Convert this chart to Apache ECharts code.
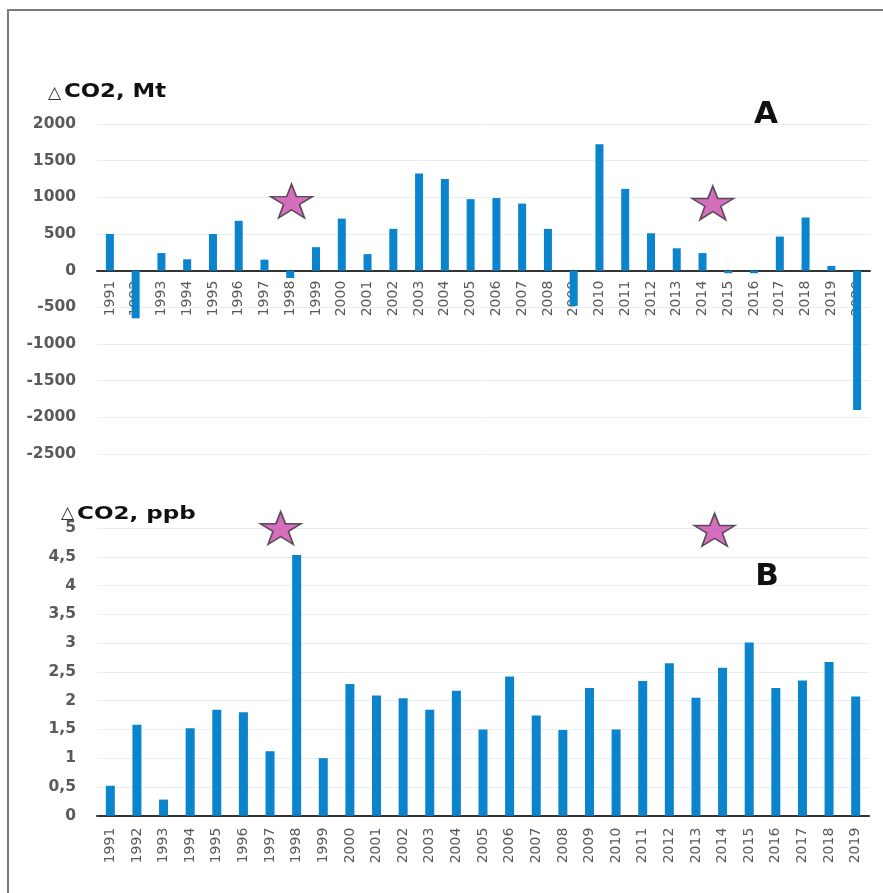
<!DOCTYPE html>
<html>
<head>
<meta charset="utf-8">
<script src="https://cdn.jsdelivr.net/npm/echarts@6/dist/echarts.min.js"></script>
<style>
  html, body { margin: 0; padding: 0; background: #ffffff; }
  #chart { width: 883px; height: 893px; }
</style>
</head>
<body>
<div id="chart"></div>
<script>
// ---- Data ----
const yearsA = ['1991','1992','1993','1994','1995','1996','1997','1998','1999','2000',
                '2001','2002','2003','2004','2005','2006','2007','2008','2009','2010',
                '2011','2012','2013','2014','2015','2016','2017','2018','2019','2020'];
const deltaMt = [500, -650, 240, 155, 500, 680, 150, -100, 320, 710,
                 225, 570, 1325, 1250, 975, 990, 915, 570, -480, 1725,
                 1115, 510, 305, 240, -35, -35, 465, 725, 65, -1900];

const yearsB = ['1991','1992','1993','1994','1995','1996','1997','1998','1999','2000',
                '2001','2002','2003','2004','2005','2006','2007','2008','2009','2010',
                '2011','2012','2013','2014','2015','2016','2017','2018','2019'];
const deltaPpb = [0.52, 1.58, 0.28, 1.52, 1.84, 1.80, 1.12, 4.53, 1.00, 2.29,
                  2.09, 2.04, 1.84, 2.17, 1.50, 2.42, 1.74, 1.49, 2.22, 1.50,
                  2.34, 2.65, 2.05, 2.57, 3.01, 2.22, 2.35, 2.67, 2.07];

// star markers: [category position (index), value]
const starsA = [[7.05, 950], [23.4, 925]];
const starsB = [[6.4, 5.0], [22.7, 4.97]];

// tick labels
const ticksA = ['-2500', '-2000', '-1500', '-1000', '-500', '0', '500', '1000', '1500', '2000'];
const ticksB = ['0', '0,5', '1', '1,5', '2', '2,5', '3', '3,5', '4', '4,5', '5'];

// ---- Chart ----
const chart = echarts.init(document.getElementById('chart'), null, { renderer: 'canvas' });
const starPath = 'path://M50,0 L61.8,35.4 L100,35.4 L69.1,57.3 L80.9,95.1 L50,72.4 L19.1,95.1 L30.9,57.3 L0,35.4 L38.2,35.4 Z';
const barColor = '#0a84cc';
const labelColor = '#5a5a5a';
const gridColor = '#e9eef3';
const fontFam = 'DejaVu Sans';

const yMinA = -2500, yMaxA = 2000;
const gridATop = 124, gridABottomY = 454;
const zeroOffsetA = (gridABottomY - gridATop) * (0 - yMinA) / (yMaxA - yMinA);

const yLabel = {
  color: labelColor, fontFamily: fontFam, fontWeight: 'bold', fontSize: 15.5, margin: 21
};

const option = {
  backgroundColor: '#ffffff',
  animation: false,
  grid: [
    { left: 97, right: 13, top: gridATop, bottom: 893 - gridABottomY },
    { left: 97, right: 14, top: 528, bottom: 893 - 815.7 }
  ],
  xAxis: [
    {
      type: 'category', gridIndex: 0, data: yearsA,
      position: 'bottom', offset: -zeroOffsetA,
      axisLine: { onZero: false, lineStyle: { color: '#333', width: 2 } },
      axisTick: { show: false },
      axisLabel: { rotate: 90, interval: 0, margin: 10, color: labelColor, fontFamily: fontFam, fontSize: 14 }
    },
    {
      type: 'value', gridIndex: 0, show: false, min: -0.5, max: yearsA.length - 0.5
    },
    {
      type: 'category', gridIndex: 1, data: yearsB,
      axisLine: { onZero: true, lineStyle: { color: '#333', width: 2 } },
      axisTick: { show: false },
      axisLabel: { rotate: 90, interval: 0, margin: 12, color: labelColor, fontFamily: fontFam, fontSize: 14 }
    },
    {
      type: 'value', gridIndex: 1, show: false, min: -0.5, max: yearsB.length - 0.5
    }
  ],
  yAxis: [
    {
      type: 'value', gridIndex: 0,
      min: yMinA, max: yMaxA, interval: 500,
      axisLine: { show: false }, axisTick: { show: false },
      splitLine: { lineStyle: { color: gridColor, width: 1 } },
      axisLabel: Object.assign({}, yLabel, {
        formatter: function (v) { return ticksA[Math.round((v - yMinA) / 500)]; }
      })
    },
    {
      type: 'value', gridIndex: 1,
      min: 0, max: 5, interval: 0.5,
      axisLine: { show: false }, axisTick: { show: false },
      splitLine: { lineStyle: { color: gridColor, width: 1 } },
      axisLabel: Object.assign({}, yLabel, {
        formatter: function (v) { return ticksB[Math.round(v / 0.5)]; }
      })
    }
  ],
  series: [
    {
      type: 'bar', xAxisIndex: 0, yAxisIndex: 0, data: deltaMt,
      barWidth: 8, itemStyle: { color: barColor }
    },
    {
      type: 'scatter', xAxisIndex: 1, yAxisIndex: 0, data: starsA,
      symbol: starPath, symbolSize: [42, 34], z: 5,
      itemStyle: { color: '#c94aad', borderColor: '#333', borderWidth: 1.5 }
    },
    {
      type: 'bar', xAxisIndex: 2, yAxisIndex: 1, data: deltaPpb,
      barWidth: 9, itemStyle: { color: barColor }
    },
    {
      type: 'scatter', xAxisIndex: 3, yAxisIndex: 1, data: starsB,
      symbol: starPath, symbolSize: [41, 33], z: 5,
      itemStyle: { color: '#c94aad', borderColor: '#333', borderWidth: 1.5 }
    }
  ],
  graphic: [
    { type: 'line', shape: { x1: 7, y1: 10, x2: 883, y2: 10 }, style: { stroke: '#7a7a7a', lineWidth: 2 } },
    { type: 'line', shape: { x1: 8, y1: 10, x2: 8, y2: 893 }, style: { stroke: '#7a7a7a', lineWidth: 2 } },
    { type: 'text', x: 48, y: 94, style: { text: '△', font: '17px ' + fontFam, fill: '#333', verticalAlign: 'middle' } },
    { type: 'text', x: 64, y: 92, scaleX: 1.2, style: { text: 'CO2, Mt', font: 'bold 19px ' + fontFam, fill: '#111', verticalAlign: 'middle' } },
    { type: 'text', x: 61, y: 514, style: { text: '△', font: '17px ' + fontFam, fill: '#333', verticalAlign: 'middle' } },
    { type: 'text', x: 77, y: 514, scaleX: 1.28, style: { text: 'CO2, ppb', font: 'bold 18px ' + fontFam, fill: '#111', verticalAlign: 'middle' } },
    { type: 'text', x: 766, y: 115, style: { text: 'A', font: 'bold 31px ' + fontFam, fill: '#111', align: 'center', verticalAlign: 'middle' } },
    { type: 'text', x: 767, y: 577, style: { text: 'B', font: 'bold 31px ' + fontFam, fill: '#111', align: 'center', verticalAlign: 'middle' } }
  ]
};
chart.setOption(option);
</script>
</body>
</html>
